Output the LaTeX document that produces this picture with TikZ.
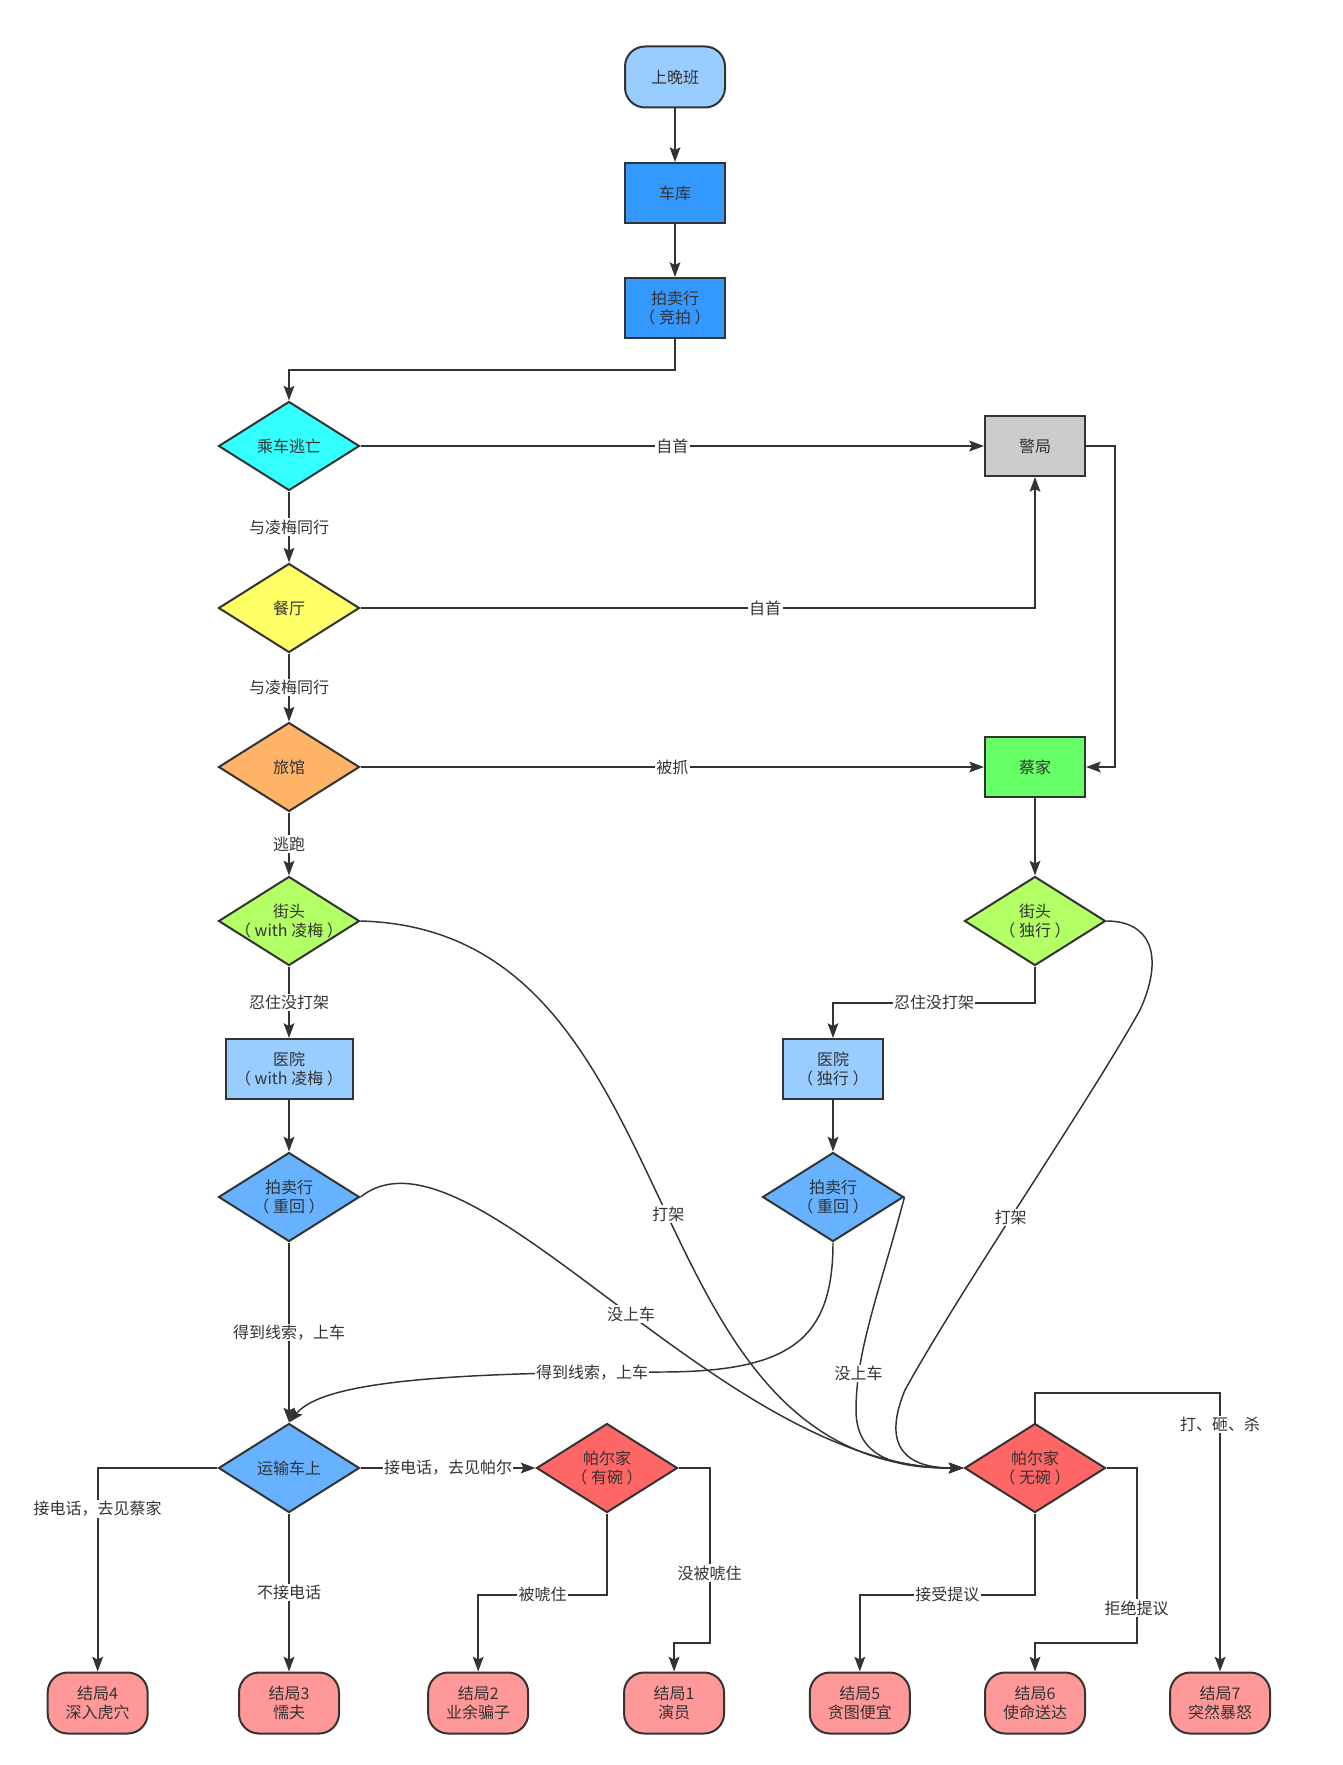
\documentclass[tikz,border=0pt]{standalone}
\usepackage{fontspec}
\setmainfont{Noto Sans CJK SC}
\usepackage{tikz}
\usetikzlibrary{shapes.geometric,arrows.meta,positioning}
\definecolor{ink}{HTML}{333333}
\definecolor{lightsky}{HTML}{99CCFF}
\definecolor{deepsky}{HTML}{3399FF}
\definecolor{midsky}{HTML}{66B2FF}
\definecolor{cyanfill}{HTML}{33FFFF}
\definecolor{yellowfill}{HTML}{FFFF66}
\definecolor{orangefill}{HTML}{FFB366}
\definecolor{greyfill}{HTML}{CCCCCC}
\definecolor{greenfill}{HTML}{66FF66}
\definecolor{limefill}{HTML}{B3FF66}
\definecolor{redfill}{HTML}{FF6666}
\definecolor{pinkfill}{HTML}{FF9999}
\tikzstyle{box} = [rectangle, draw=ink, line width=1.5pt,
    minimum width=75pt, minimum height=45pt, align=center]
\tikzstyle{choice} = [diamond, draw=ink, line width=1.5pt, inner sep=-10pt,
    minimum width=105.75pt, minimum height=66.75pt, align=center]
\tikzstyle{term} = [rectangle, draw=ink, line width=1.5pt, rounded corners=15pt,
    minimum width=75pt, minimum height=45.75pt, align=center]
\tikzset{
  myarrow/.style={-{Stealth[length=11pt, width=8pt, inset=2pt]}, draw=ink, line width=1.5pt},
  curvearrow/.style={myarrow, line width=1.1pt},
  lbl/.style={fill=white, inner sep=1pt},
	}

\begin{document}
\begin{tikzpicture}[x=0.75pt, y=-0.75pt, align=center,
    every node/.append style={font=\fontsize{12pt}{14.5pt}\selectfont, text=ink}]
    \useasboundingbox (0,0) rectangle (1342,1765);
    \node[term, fill=lightsky] (start) at (675,77) {上晚班};
    \node[box, fill=deepsky, below of=start, node distance=87pt] (garage) {车库};
    \draw[myarrow] (start) -- (garage);
    \node[box, fill=deepsky, below of=garage, node distance=86.25pt] (auction) {拍卖行\\（ 竞拍 ）};
    \draw[myarrow] (garage) -- (auction);
    \node[choice, fill=cyanfill, below of=auction, node distance=103.5pt, xshift=-289.5pt] (escape) {乘车逃亡};
    \draw[myarrow] (auction.south) -- ++(0,31) -| (escape.north);
    \node[choice, fill=yellowfill, below of=escape, node distance=121.5pt] (restaurant) {餐厅};
    \draw[myarrow] (escape) -- node[lbl]{与凌梅同行} (restaurant);
    \node[choice, fill=orangefill, below of=restaurant, node distance=119.25pt] (hotel) {旅馆};
    \draw[myarrow] (restaurant) -- node[lbl]{与凌梅同行} (hotel);
    \node[choice, fill=limefill, below of=hotel, node distance=115.5pt] (streetL) {街头\\（ with 凌梅 ）};
    \draw[myarrow] (hotel) -- node[lbl]{逃跑} (streetL);
    \node[box, fill=lightsky, below of=streetL, node distance=111pt, minimum width=95.25pt] (hospitalL) {医院\\（ with 凌梅 ）};
    \draw[myarrow] (streetL) -- node[lbl]{忍住没打架} (hospitalL);
    \node[choice, fill=midsky, below of=hospitalL, node distance=96pt] (auctionL) {拍卖行\\（ 重回 ）};
    \draw[myarrow] (hospitalL) -- (auctionL);
    \node[choice, fill=midsky, below of=auctionL, node distance=203.25pt] (truck) {运输车上};
    \draw[myarrow] (auctionL) -- node[lbl]{得到线索，上车} (truck);

    \node[box, fill=greyfill, right of=escape, node distance=559.5pt] (police) {警局};
    \draw[myarrow] (escape) -- node[lbl]{自首} (police);
    \draw[myarrow] (restaurant) -| node[lbl, pos=0.3]{自首} (police);
    \node[box, fill=greenfill, right of=hotel, node distance=559.5pt] (caijia) {蔡家};
    \draw[myarrow] (hotel) -- node[lbl]{被抓} (caijia);
    \draw[myarrow] (police.east) -- ++(29,0) |- (caijia.east);
    \node[choice, fill=limefill, right of=streetL, node distance=559.5pt] (streetR) {街头\\（ 独行 ）};
    \draw[myarrow] (caijia) -- (streetR);
    \node[box, fill=lightsky, right of=hospitalL, node distance=408pt] (hospitalR) {医院\\（ 独行 ）};
    \draw[myarrow] (streetR.south) -- ++(0,36) -| node[lbl, pos=0.25]{忍住没打架} (hospitalR.north);
    \node[choice, fill=midsky, right of=auctionL, node distance=408pt] (auctionR) {拍卖行\\（ 重回 ）};
    \draw[myarrow] (hospitalR) -- (auctionR);

    \node[choice, fill=redfill, right of=truck, node distance=238.5pt] (palA) {帕尔家\\（ 有碗 ）};
    \draw[myarrow] (truck) -- node[lbl]{接电话，去见帕尔} (palA);
    \node[choice, fill=redfill, right of=truck, node distance=559.5pt] (palB) {帕尔家\\（ 无碗 ）};
    \draw[curvearrow] (streetL.east) .. controls (700,930) and (620,1468) .. node[lbl, pos=0.52]{打架} (palB.west);
    \draw[curvearrow] (auctionL.east) .. controls (470,1110) and (720,1468) .. node[lbl, pos=0.53]{没上车} (palB.west);
    \draw[curvearrow] (auctionR.south) .. controls (833,1340) and (790,1372) .. (660,1372)
        .. controls (420,1372) and (320,1385) .. node[lbl, pos=0.1]{得到线索，上车} (truck.north);
    \draw[curvearrow] (auctionR.east) .. controls (880,1290) and (856,1350) .. node[lbl, pos=0.8]{没上车} (856,1410)
        .. controls (856,1460) and (900,1468) .. (palB.west);
    \draw[curvearrow] (streetR.east) .. controls (1150,921) and (1165,955) .. (1140,1010)
        .. controls (1090,1100) and (960,1290) .. node[lbl, pos=0.55]{打架} (905,1390)
        .. controls (880,1450) and (910,1468) .. (palB.west);

    \node[term, fill=pinkfill, below of=truck, node distance=176.25pt] (end3) {结局3\\懦夫};
    \draw[myarrow] (truck) -- node[lbl]{不接电话} (end3);
    \node[term, fill=pinkfill, left of=end3, node distance=143.5pt] (end4) {结局4\\深入虎穴};
    \draw[myarrow] (truck) -| node[lbl, pos=0.6]{接电话，去见蔡家} (end4);
    \node[term, fill=pinkfill, right of=end3, node distance=141.9pt] (end2) {结局2\\业余骗子};
    \draw[myarrow] (palA.south) -- ++(0,81) -| node[lbl, pos=0.25]{被唬住} (end2.north);
    \node[term, fill=pinkfill, right of=end3, node distance=288.8pt] (end1) {结局1\\演员};
    \draw[myarrow] (palA.east) -- ++(31,0) -- node[lbl, pos=0.6]{没被唬住} ++(0,175) -| (end1.north);
    \node[term, fill=pinkfill, right of=end3, node distance=428.1pt] (end5) {结局5\\贪图便宜};
    \draw[myarrow] (palB.south) -- ++(0,81) -| node[lbl, pos=0.25]{接受提议} (end5.north);
    \node[term, fill=pinkfill, right of=end3, node distance=559.5pt] (end6) {结局6\\使命送达};
    \draw[myarrow] (palB.east) -- ++(30,0) -- node[lbl, pos=0.8]{拒绝提议} ++(0,175) -| (end6.north);
    \node[term, fill=pinkfill, right of=end3, node distance=698.3pt] (end7) {结局7\\突然暴怒};
    \draw[myarrow] (palB.north) -- ++(0,-30) -| node[lbl, pos=0.557]{打、砸、杀} (end7.north);
  \end{tikzpicture}
\end{document}
